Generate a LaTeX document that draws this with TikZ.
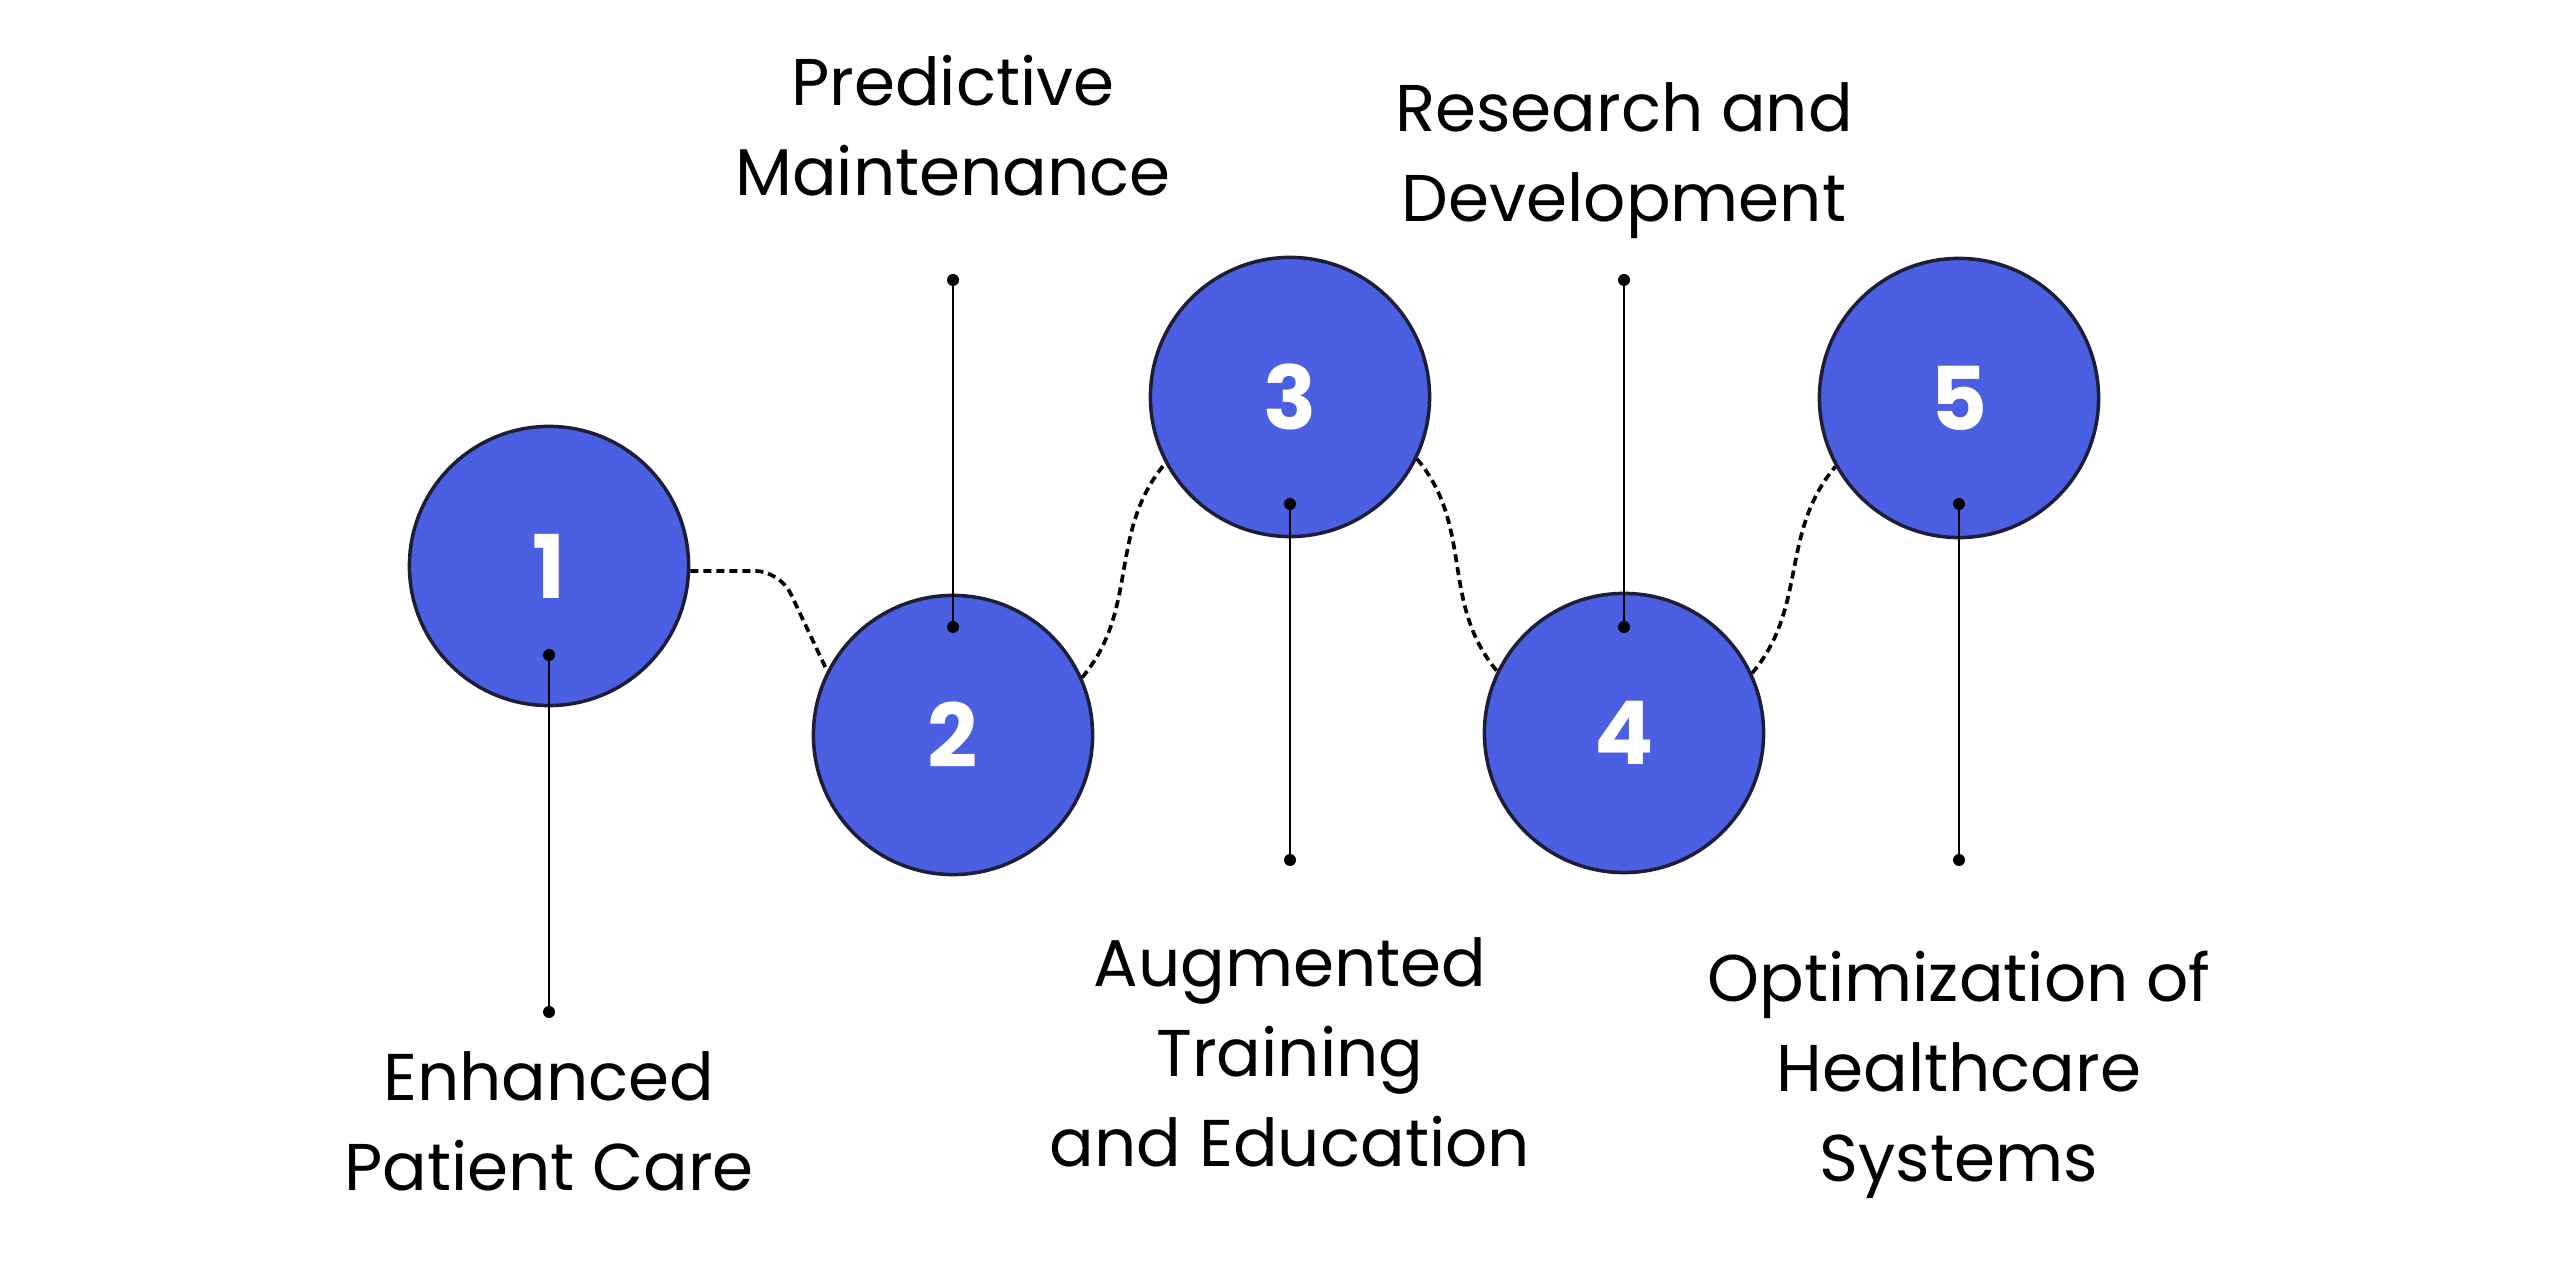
\documentclass[tikz,border=0pt]{standalone}
\usepackage{fontspec}
\setmainfont{Poppins}
\definecolor{stepblue}{RGB}{75,95,226}
\definecolor{stepedge}{RGB}{30,30,55}
\begin{document}
\begin{tikzpicture}[x=0.01cm,y=0.01cm,
  stepcircle/.style={circle, minimum size=2.79cm, inner sep=0pt,
    fill=stepblue, draw=stepedge, line width=1pt,
    text=white, font=\fontsize{25}{30}\selectfont\bfseries},
  dashline/.style={draw=black, line width=1.05pt, dash pattern=on 2.3pt off 1.4pt},
  stem/.style={draw=black, line width=0.8pt},
  pin/.style={circle, fill=black, inner sep=0pt, minimum size=0.12cm},
  label/.style={align=center, anchor=base, inner sep=0pt,
    font=\fontsize{18.8}{25.6}\selectfont}]
\useasboundingbox (0,0) rectangle (2560,-1283);
\fill[white] (0,0) rectangle (2560,-1283);

% step circles
\node[stepcircle] (c1) at (549,-566) {1};
\node[stepcircle] (c2) at (953,-735) {2};
\node[stepcircle] (c3) at (1290,-397) {3};
\node[stepcircle] (c4) at (1624,-733) {4};
\node[stepcircle] (c5) at (1959,-398) {5};

% dotted links between the steps
\coordinate (bend) at (780,-571);
\draw[dashline, rounded corners=7pt] (c1.-2) -- (bend) -- (c2.153);
\draw[dashline] (c2.24) to[out=50,in=-130] (c3.208);
\draw[dashline] (c3.-26) to[out=-50,in=130] (c4.154);
\draw[dashline] (c4.25) to[out=50,in=-130] (c5.209);

% pin end points
\coordinate (p1a) at (549,-655);  \coordinate (p1b) at (549,-1012);
\coordinate (p2a) at (953,-627);  \coordinate (p2b) at (953,-280);
\coordinate (p3a) at (1290,-504); \coordinate (p3b) at (1290,-860);
\coordinate (p4a) at (1624,-627); \coordinate (p4b) at (1624,-280);
\coordinate (p5a) at (1959,-504); \coordinate (p5b) at (1959,-860);

\foreach \i in {1,...,5} {
  \draw[stem] (p\i a) -- (p\i b);
  \node[pin] at (p\i a) {};
  \node[pin] at (p\i b) {};
}

% labels (anchored on the baseline of their last line)
\node[label] (t1) at (549,-1191) {Enhanced\\Patient Care};
\node[label] (t2) at (953,-196) {Predictive\\Maintenance};
\node[label] (t3) at (1290,-1167) {Augmented\\Training\\and Education};
\node[label] (t4) at (1624,-222) {Research and\\Development};
\node[label] (t5) at (1959,-1182) {Optimization of\\Healthcare\\Systems};
\end{tikzpicture}
\end{document}
